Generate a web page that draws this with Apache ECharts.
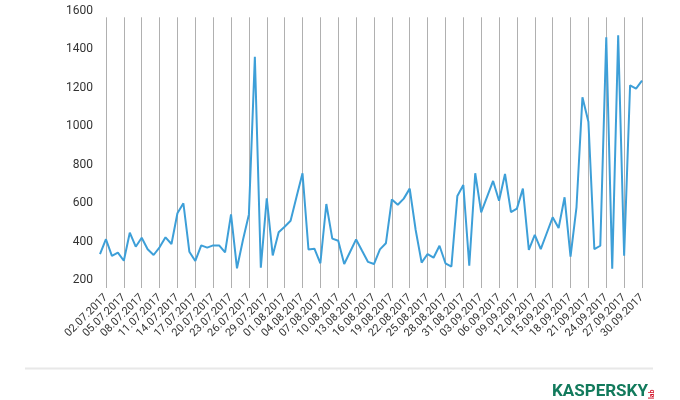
<!DOCTYPE html>
<html>
<head>
<meta charset="utf-8">
<script src="https://cdn.jsdelivr.net/npm/echarts@6/dist/echarts.min.js"></script>
<style>
html,body{margin:0;padding:0;background:#fff;}
#chart{width:680px;height:400px;}
</style>
</head>
<body>
<div id="chart"></div>
<script>
var categories = [
'01.07.2017','02.07.2017','03.07.2017','04.07.2017','05.07.2017','06.07.2017','07.07.2017','08.07.2017','09.07.2017','10.07.2017',
'11.07.2017','12.07.2017','13.07.2017','14.07.2017','15.07.2017','16.07.2017','17.07.2017','18.07.2017','19.07.2017','20.07.2017',
'21.07.2017','22.07.2017','23.07.2017','24.07.2017','25.07.2017','26.07.2017','27.07.2017','28.07.2017','29.07.2017','30.07.2017',
'31.07.2017','01.08.2017','02.08.2017','03.08.2017','04.08.2017','05.08.2017','06.08.2017','07.08.2017','08.08.2017','09.08.2017',
'10.08.2017','11.08.2017','12.08.2017','13.08.2017','14.08.2017','15.08.2017','16.08.2017','17.08.2017','18.08.2017','19.08.2017',
'20.08.2017','21.08.2017','22.08.2017','23.08.2017','24.08.2017','25.08.2017','26.08.2017','27.08.2017','28.08.2017','29.08.2017',
'30.08.2017','31.08.2017','01.09.2017','02.09.2017','03.09.2017','04.09.2017','05.09.2017','06.09.2017','07.09.2017','08.09.2017',
'09.09.2017','10.09.2017','11.09.2017','12.09.2017','13.09.2017','14.09.2017','15.09.2017','16.09.2017','17.09.2017','18.09.2017',
'19.09.2017','20.09.2017','21.09.2017','22.09.2017','23.09.2017','24.09.2017','25.09.2017','26.09.2017','27.09.2017','28.09.2017',
'29.09.2017','30.09.2017'
];
var values = [
335,412,325,342,300,446,373,420,360,330,
370,422,387,547,599,347,299,380,368,380,
380,344,541,261,408,541,1361,264,625,328,
448,477,508,633,755,359,363,287,595,415,
404,283,347,411,352,294,283,359,391,619,
591,623,675,460,290,335,316,378,287,270,
637,694,274,755,552,633,715,612,751,553,
571,675,356,434,360,443,526,470,630,321,
578,1150,1023,360,378,1462,259,1472,326,1212,
1195,1236
];
var yTicks = [200,400,600,800,1000,1200,1400,1600];

var chart = echarts.init(document.getElementById('chart'), null, {renderer:'canvas'});
function shown(idx){ return idx % 3 === 1; }
chart.setOption({
  animation:false,
  backgroundColor:'#fff',
  grid:[
    {left:100, right:38, top:10.7, bottom:120},
    {left:100, right:38, top:17.3, bottom:112}
  ],
  xAxis:[
    {gridIndex:0, type:'category', data:categories, boundaryGap:false, show:false},
    {gridIndex:1, type:'category', data:categories, boundaryGap:false,
     axisLine:{show:false}, axisTick:{show:false},
     splitLine:{show:true, interval:function(i){return shown(i);}, lineStyle:{color:'#b0b0b0', width:1}},
     axisLabel:{interval:function(i){return shown(i);}, rotate:45, margin:8, fontSize:11, fontFamily:'Roboto', color:'#333'}
    }
  ],
  yAxis:[
    {gridIndex:0, type:'value', min:yTicks[0], max:yTicks[yTicks.length-1], interval:200,
     axisLine:{show:false}, axisTick:{show:false}, splitLine:{show:false},
     axisLabel:{fontSize:12, fontFamily:'Roboto', color:'#333', margin:7, formatter:function(v){return String(v);}}},
    {gridIndex:1, type:'value', min:0, max:1, show:false, splitLine:{show:false}}
  ],
  series:[
    {type:'line', xAxisIndex:0, yAxisIndex:0, data:values, showSymbol:false, symbol:'none',
     lineStyle:{color:'#3d9fd8', width:2}, itemStyle:{color:'#3d9fd8'}}
  ],
  graphic:[
    {type:'line', shape:{x1:25, y1:368.5, x2:653, y2:368.5}, style:{stroke:'#e8e8e8', lineWidth:2}},
    {type:'text', left:552, top:383, style:{text:'KASPERSKY', font:'bold 17px Roboto', fill:'#127a5c'}},
    {type:'text', x:649, y:399, rotation:Math.PI/2, style:{text:'lab', font:'bold 7px Roboto', fill:'#d3142a'}}
  ]
});
</script>
</body>
</html>
